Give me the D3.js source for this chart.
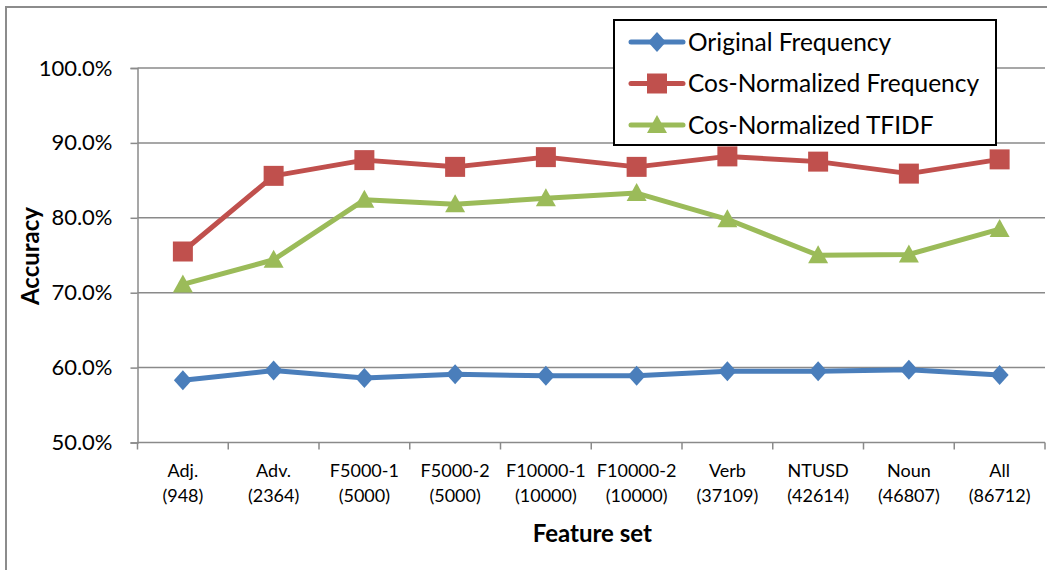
<!DOCTYPE html>
<html>
<head>
<meta charset="utf-8">
<script src="https://cdn.jsdelivr.net/npm/d3@7"></script>
<style>
  body { margin: 0; background: #fff; }
  svg { display: block; font-family: Lato, "Open Sans", sans-serif; }
</style>
</head>
<body>
<svg id="chart" width="1047" height="570"></svg>
<script>
// categories (two-line tick labels)
var categories = ['Adj.', 'Adv.', 'F5000-1', 'F5000-2', 'F10000-1', 'F10000-2', 'Verb', 'NTUSD', 'Noun', 'All'];
var catSizes = ['(948)', '(2364)', '(5000)', '(5000)', '(10000)', '(10000)', '(37109)', '(42614)', '(46807)', '(86712)'];

// accuracy values, in percent
var originalFreq = [58.3, 59.6, 58.6, 59.1, 58.9, 58.9, 59.5, 59.5, 59.7, 59.0];
var cosNormFreq = [75.5, 85.6, 87.7, 86.8, 88.1, 86.8, 88.2, 87.5, 85.9, 87.8];
var cosNormTfidf = [71.1, 74.4, 82.4, 81.8, 82.6, 83.3, 79.8, 75.0, 75.1, 78.5];

var yTicks = [50, 60, 70, 80, 90, 100];

var seriesNames = ['Original Frequency', 'Cos-Normalized Frequency', 'Cos-Normalized TFIDF'];
var seriesColors = ['#4a7ebb', '#c0504d', '#9bbb59'];
var seriesShapes = [d3.symbolDiamond, d3.symbolSquare, d3.symbolTriangle];

var series = [originalFreq, cosNormFreq, cosNormTfidf].map(function(vals, i) {
  return { name: seriesNames[i], color: seriesColors[i], shape: seriesShapes[i], vals: vals };
});

var margins = { left: 137.5, right: 2, top: 68, bottom: 127.5 };
var width = 1047, height = 570;

var svg = d3.select('#chart');

// outer chart frame
svg.append('rect')
  .attr('x', 6).attr('y', 7)
  .attr('width', 1100).attr('height', 700)
  .attr('fill', 'none')
  .attr('stroke', '#8c8c8c')
  .attr('stroke-width', 2);

var xScale = d3.scaleBand()
  .domain(categories)
  .range([margins.left, width - margins.right]);

var yScale = d3.scaleLinear()
  .domain([50, 100])
  .range([height - margins.bottom, margins.top]);

// grid lines
svg.append('g')
  .selectAll('line')
  .data(yTicks.slice(1))
  .enter().append('line')
  .attr('x1', margins.left).attr('x2', width - margins.right)
  .attr('y1', function(d) { return yScale(d); })
  .attr('y2', function(d) { return yScale(d); })
  .attr('stroke', '#8a8a8a')
  .attr('stroke-width', 1.5);

// y axis
var yAxis = svg.append('g')
  .attr('transform', 'translate(' + margins.left + ',0)')
  .call(d3.axisLeft(yScale).tickValues(yTicks).tickSize(7).tickPadding(18)
    .tickFormat(function(d) { return d.toFixed(1) + '%'; }));
yAxis.select('.domain').attr('stroke', '#8a8a8a').attr('stroke-width', 1.5);
yAxis.selectAll('.tick line').attr('stroke', '#8a8a8a').attr('stroke-width', 1.5);
yAxis.selectAll('.tick text')
  .attr('fill', '#000')
  .style('font-size', '22px')
  .style('font-family', 'Lato, "Open Sans", sans-serif');

// x axis
var xAxisG = svg.append('g')
  .attr('transform', 'translate(0,' + yScale(50) + ')');
xAxisG.append('line')
  .attr('x1', margins.left).attr('x2', width - margins.right)
  .attr('stroke', '#8a8a8a').attr('stroke-width', 1.5);
var bounds = categories.map(function(c) { return xScale(c); }).concat([width - margins.right]);
xAxisG.selectAll('line.tk')
  .data(bounds)
  .enter().append('line')
  .attr('class', 'tk')
  .attr('x1', function(d) { return d; }).attr('x2', function(d) { return d; })
  .attr('y1', 0).attr('y2', 7)
  .attr('stroke', '#8a8a8a').attr('stroke-width', 1.5);

var xLabels = xAxisG.selectAll('text.cat')
  .data(categories)
  .enter().append('text')
  .attr('class', 'cat')
  .attr('x', function(d) { return xScale(d) + xScale.bandwidth() / 2; })
  .attr('text-anchor', 'middle')
  .style('font-size', '18px');
xLabels.append('tspan')
  .attr('x', function(d) { return xScale(d) + xScale.bandwidth() / 2; })
  .attr('y', 34)
  .text(function(d) { return d; });
xLabels.append('tspan')
  .attr('x', function(d) { return xScale(d) + xScale.bandwidth() / 2; })
  .attr('y', 59)
  .text(function(d, i) { return catSizes[i]; });

// axis titles
svg.append('text')
  .attr('x', (margins.left + width - margins.right) / 2 + 1)
  .attr('y', 542)
  .attr('text-anchor', 'middle')
  .style('font-size', '24px')
  .style('font-weight', 'bold')
  .text('Feature set');

svg.append('text')
  .attr('transform', 'translate(39,' + 256 + ') rotate(-90)')
  .attr('text-anchor', 'middle')
  .style('font-size', '24px')
  .style('font-weight', 'bold')
  .text('Accuracy');

// series
var line = d3.line()
  .x(function(d, i) { return xScale(categories[i]) + xScale.bandwidth() / 2; })
  .y(function(d) { return yScale(d); });

function markerPath(shape) {
  if (shape === d3.symbolDiamond) {
    return 'M0,-10L9,0L0,10L-9,0Z';
  }
  if (shape === d3.symbolTriangle) {
    return 'M0,-10L10,8L-10,8Z';
  }
  return 'M-10,-10H10V10H-10Z';
}

series.forEach(function(s) {
  var g = svg.append('g');
  g.append('path')
    .datum(s.vals)
    .attr('d', line)
    .attr('fill', 'none')
    .attr('stroke', s.color)
    .attr('stroke-width', 5)
    .attr('stroke-linejoin', 'round')
    .attr('stroke-linecap', 'round');
  g.selectAll('path.mk')
    .data(s.vals)
    .enter().append('path')
    .attr('class', 'mk')
    .attr('d', markerPath(s.shape))
    .attr('transform', function(d, i) {
      return 'translate(' + (xScale(categories[i]) + xScale.bandwidth() / 2) + ',' + yScale(d) + ')';
    })
    .attr('fill', s.color);
});

// legend
var legend = svg.append('g');
legend.append('rect')
  .attr('x', 614).attr('y', 20)
  .attr('width', 382).attr('height', 125)
  .attr('fill', '#fff')
  .attr('stroke', '#000')
  .attr('stroke-width', 2);

var legendY = d3.scalePoint().domain(seriesNames).range([42, 125]);
series.forEach(function(s) {
  var y = legendY(s.name);
  legend.append('line')
    .attr('x1', 631).attr('x2', 683)
    .attr('y1', y).attr('y2', y)
    .attr('stroke', s.color)
    .attr('stroke-width', 5)
    .attr('stroke-linecap', 'round');
  legend.append('path')
    .attr('d', markerPath(s.shape))
    .attr('transform', 'translate(657,' + y + ')')
    .attr('fill', s.color);
  legend.append('text')
    .attr('x', 688).attr('y', y)
    .attr('dy', '0.35em')
    .style('font-size', '24.5px')
    .text(s.name);
});
</script>
</body>
</html>
